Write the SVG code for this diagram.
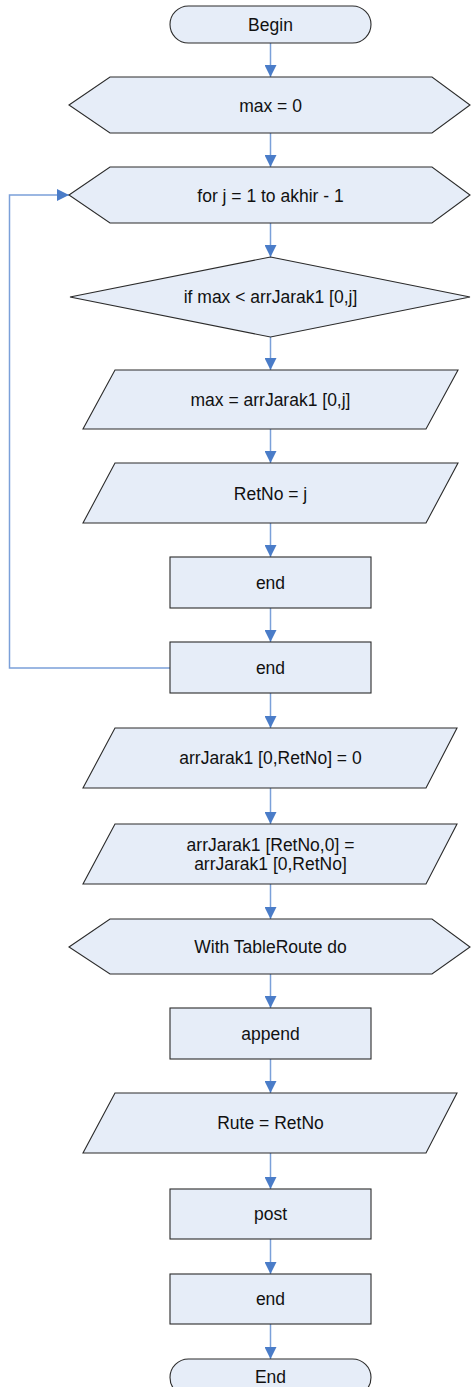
<svg xmlns="http://www.w3.org/2000/svg" width="471" height="1387" viewBox="0 0 471 1387">
<style>
.n{fill:#E6EDF8;stroke:#2b2b2b;stroke-width:1.1}
.t{font-family:"Liberation Sans",Arial,sans-serif;font-size:17.5px;fill:#111;text-anchor:middle}
.c{stroke:#7BA0D9;stroke-width:1.5;fill:none}
</style>
<defs>
<marker id="ah" viewBox="0 0 12 12" refX="12" refY="6" markerWidth="12" markerHeight="12" markerUnits="userSpaceOnUse" orient="auto">
<path d="M0,0 L12,6 L0,12 Z" fill="#4A7CC8"/>
</marker>
</defs>
<rect width="471" height="1387" fill="#fff"/>
<g id="connectors">
<line class="c" x1="270.5" y1="43" x2="270.5" y2="77" marker-end="url(#ah)"/>
<line class="c" x1="270.5" y1="133" x2="270.5" y2="167" marker-end="url(#ah)"/>
<line class="c" x1="270.5" y1="223" x2="270.5" y2="257" marker-end="url(#ah)"/>
<line class="c" x1="270.5" y1="337" x2="270.5" y2="370" marker-end="url(#ah)"/>
<line class="c" x1="270.5" y1="429" x2="270.5" y2="463" marker-end="url(#ah)"/>
<line class="c" x1="270.5" y1="523" x2="270.5" y2="557" marker-end="url(#ah)"/>
<line class="c" x1="270.5" y1="608" x2="270.5" y2="642" marker-end="url(#ah)"/>
<polyline class="c" points="170,668 9.5,668 9.5,195 69,195" marker-end="url(#ah)"/>
<line class="c" x1="270.5" y1="693" x2="270.5" y2="728" marker-end="url(#ah)"/>
<line class="c" x1="270.5" y1="788" x2="270.5" y2="824" marker-end="url(#ah)"/>
<line class="c" x1="270.5" y1="884" x2="270.5" y2="919" marker-end="url(#ah)"/>
<line class="c" x1="270.5" y1="974" x2="270.5" y2="1008" marker-end="url(#ah)"/>
<line class="c" x1="270.5" y1="1059" x2="270.5" y2="1093" marker-end="url(#ah)"/>
<line class="c" x1="270.5" y1="1153" x2="270.5" y2="1189" marker-end="url(#ah)"/>
<line class="c" x1="270.5" y1="1239" x2="270.5" y2="1274" marker-end="url(#ah)"/>
<line class="c" x1="270.5" y1="1324" x2="270.5" y2="1359" marker-end="url(#ah)"/>
</g>
<g id="begin">
<rect class="n" x="170" y="6" width="201" height="37" rx="18.5" ry="18.5"/>
<text class="t" x="270.5" y="30.5">Begin</text>
</g>
<g id="max0">
<polygon class="n" points="69,105 110,77 432,77 470,105 432,133 110,133"/>
<text class="t" x="270.5" y="111.5">max = 0</text>
</g>
<g id="forj">
<polygon class="n" points="69,195 110,167 432,167 470,195 432,223 110,223"/>
<text class="t" x="270.5" y="201.5">for j = 1 to akhir - 1</text>
</g>
<g id="ifmax">
<polygon class="n" points="270.5,257 470,297 270.5,337 70,297"/>
<text class="t" x="270.5" y="303">if max &lt; arrJarak1 [0,j]</text>
</g>
<g id="maxassign">
<polygon class="n" points="115,370 458,370 426,429 83,429"/>
<text class="t" x="270.5" y="406">max = arrJarak1 [0,j]</text>
</g>
<g id="retno">
<polygon class="n" points="115,463 458,463 426,523 83,523"/>
<text class="t" x="270.5" y="499.5">RetNo = j</text>
</g>
<g id="end1">
<rect class="n" x="170" y="557" width="201" height="51"/>
<text class="t" x="270.5" y="588.5">end</text>
</g>
<g id="end2">
<rect class="n" x="170" y="642" width="201" height="51"/>
<text class="t" x="270.5" y="673.5">end</text>
</g>
<g id="arr0">
<polygon class="n" points="115,728 457,728 426,788 83,788"/>
<text class="t" x="270.5" y="764">arrJarak1 [0,RetNo] = 0</text>
</g>
<g id="arrswap">
<polygon class="n" points="115,824 457,824 426,884 83,884"/>
<text class="t" x="270.5" y="851">arrJarak1 [RetNo,0] =</text>
<text class="t" x="270.5" y="870">arrJarak1 [0,RetNo]</text>
</g>
<g id="withtable">
<polygon class="n" points="69,947 110,919 432,919 470,947 432,974 110,974"/>
<text class="t" x="270.5" y="953">With TableRoute do</text>
</g>
<g id="append">
<rect class="n" x="170" y="1008" width="201" height="51"/>
<text class="t" x="270.5" y="1040">append</text>
</g>
<g id="rute">
<polygon class="n" points="115,1093 457,1093 426,1153 83,1153"/>
<text class="t" x="270.5" y="1129">Rute = RetNo</text>
</g>
<g id="post">
<rect class="n" x="170" y="1189" width="201" height="50"/>
<text class="t" x="270.5" y="1220">post</text>
</g>
<g id="end3">
<rect class="n" x="170" y="1274" width="201" height="50"/>
<text class="t" x="270.5" y="1305">end</text>
</g>
<g id="endterm">
<rect class="n" x="170" y="1359" width="201" height="37" rx="18.5" ry="18.5"/>
<text class="t" x="270.5" y="1383">End</text>
</g>
</svg>
